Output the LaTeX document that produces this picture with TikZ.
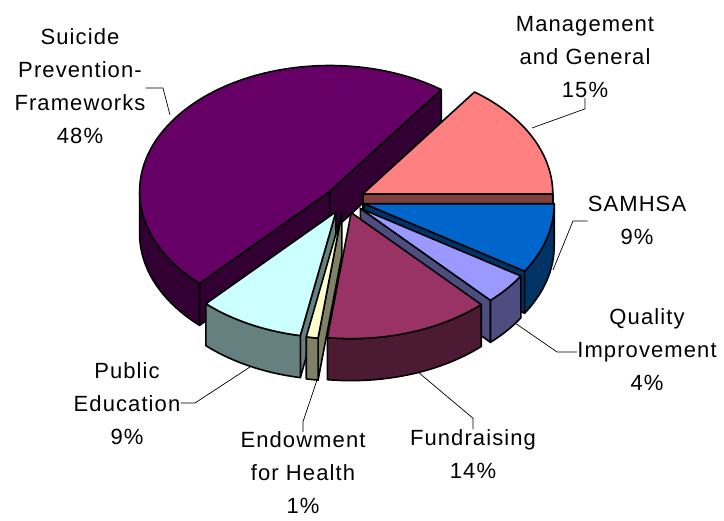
\documentclass[tikz,border=0pt]{standalone}
\usepackage{fontspec}
\setmainfont{Liberation Sans}[LetterSpace=5.0]
\usepackage{tikz}
\definecolor{frameworks top}{HTML}{660066}
\definecolor{frameworks side}{HTML}{330033}
\definecolor{management top}{HTML}{FF8080}
\definecolor{management side}{HTML}{804040}
\definecolor{samhsa top}{HTML}{0066CC}
\definecolor{samhsa side}{HTML}{003366}
\definecolor{quality top}{HTML}{9999FF}
\definecolor{quality side}{HTML}{4D4D80}
\definecolor{fundraising top}{HTML}{993366}
\definecolor{fundraising side}{HTML}{4D1A33}
\definecolor{endowment top}{HTML}{FFFFCC}
\definecolor{endowment side}{HTML}{808066}
\definecolor{education top}{HTML}{CCFFFF}
\definecolor{education side}{HTML}{668080}
\tikzset{
    slice edge/.style={draw=black,line width=1.6pt,line join=round},
    leader/.style={draw=black,line width=0.7pt},
    pie label/.style={align=center,inner sep=0pt,font=\fontsize{22}{33}\selectfont},
}
% #1 start angle, #2 end angle, #3 top colour, #4 side colour, #5 name of the apex
\newcommand{\pieslice}[5]{%
    \pgfmathsetmacro{\sliceMid}{(#1+#2)/2}
    \coordinate (#5) at ({345+20*cos(\sliceMid)},{321+13.3*sin(\sliceMid)});
    \pgfmathtruncatemacro{\showStart}{cos(#1)>0 ? 1 : 0}
    \pgfmathtruncatemacro{\showEnd}{cos(#2)<0 ? 1 : 0}
    \pgfmathsetmacro{\sideFrom}{max(#1,180)}
    \pgfmathsetmacro{\sideTo}{min(#2,360)}
    \ifnum\showStart=1
        \filldraw[slice edge,fill=#4] (#5) -- ++(0,-42) -- ++(#1:190 and 126) -- ++(0,42) -- cycle;
    \fi
    \ifnum\showEnd=1
        \filldraw[slice edge,fill=#4] (#5) -- ++(0,-42) -- ++(#2:190 and 126) -- ++(0,42) -- cycle;
    \fi
    \ifdim\sideFrom pt<\sideTo pt
        \filldraw[slice edge,fill=#4] (#5) ++(\sideFrom:190 and 126)
            arc[start angle=\sideFrom,end angle=\sideTo,x radius=190,y radius=126]
            -- ++(0,-42)
            arc[start angle=\sideTo,end angle=\sideFrom,x radius=190,y radius=126] -- cycle;
    \fi
    \filldraw[slice edge,fill=#3] (#5) -- ++(#1:190 and 126)
        arc[start angle=#1,end angle=#2,x radius=190,y radius=126] -- cycle;
}

\begin{document}
\begin{tikzpicture}[x=1pt,y=1pt]
    \useasboundingbox (0,0) rectangle (724,521);
    \pieslice{54}{226.8}{frameworks top}{frameworks side}{frameworks}
    \pieslice{0}{54}{management top}{management side}{management}
    \pieslice{327.6}{360}{samhsa top}{samhsa side}{samhsa}
    \pieslice{313.2}{327.6}{quality top}{quality side}{quality}
    \pieslice{226.8}{259.2}{education top}{education side}{education}
    \pieslice{259.2}{262.8}{endowment top}{endowment side}{endowment}
    \pieslice{262.8}{313.2}{fundraising top}{fundraising side}{fundraising}

    \node[pie label] (frameworks label) at (80,435) {Suicide\\Prevention-\\Frameworks\\48\%};
    \node[pie label] (management label) at (585,464) {Management\\and General\\15\%};
    \node[pie label] (samhsa label) at (637,301) {SAMHSA\\9\%};
    \node[pie label] (quality label) at (647,171) {Quality\\Improvement\\4\%};
    \node[pie label] (fundraising label) at (473,67) {Fundraising\\14\%};
    \node[pie label] (endowment label) at (303,48) {Endowment\\for Health\\1\%};
    \node[pie label] (education label) at (127,117) {Public\\Education\\9\%};

    \coordinate (frameworks rim) at (170,406);
    \coordinate (management rim) at (532,393);
    \coordinate (samhsa rim) at (553,251);
    \coordinate (quality rim) at (515,198);
    \coordinate (fundraising rim) at (418,149);
    \coordinate (endowment rim) at (317,141);
    \coordinate (education rim) at (250,154);

    \draw[leader] (frameworks label.east |- 0,433) -- (163,433) -- (frameworks rim);
    \draw[leader] (management label.south) -- ++(0,-11) -- (management rim);
    \draw[leader] (samhsa label.west |- 0,300) -- (573,300) -- (samhsa rim);
    \draw[leader] (quality label.west |- 0,169) -- (557,169) -- (quality rim);
    \draw[leader] (fundraising label.north) -- ++(0,11) -- (fundraising rim);
    \draw[leader] (endowment label.north) -- ++(0,10) -- (endowment rim);
    \draw[leader] (education label.east |- 0,118) -- (195,118) -- (education rim);
\end{tikzpicture}
\end{document}
